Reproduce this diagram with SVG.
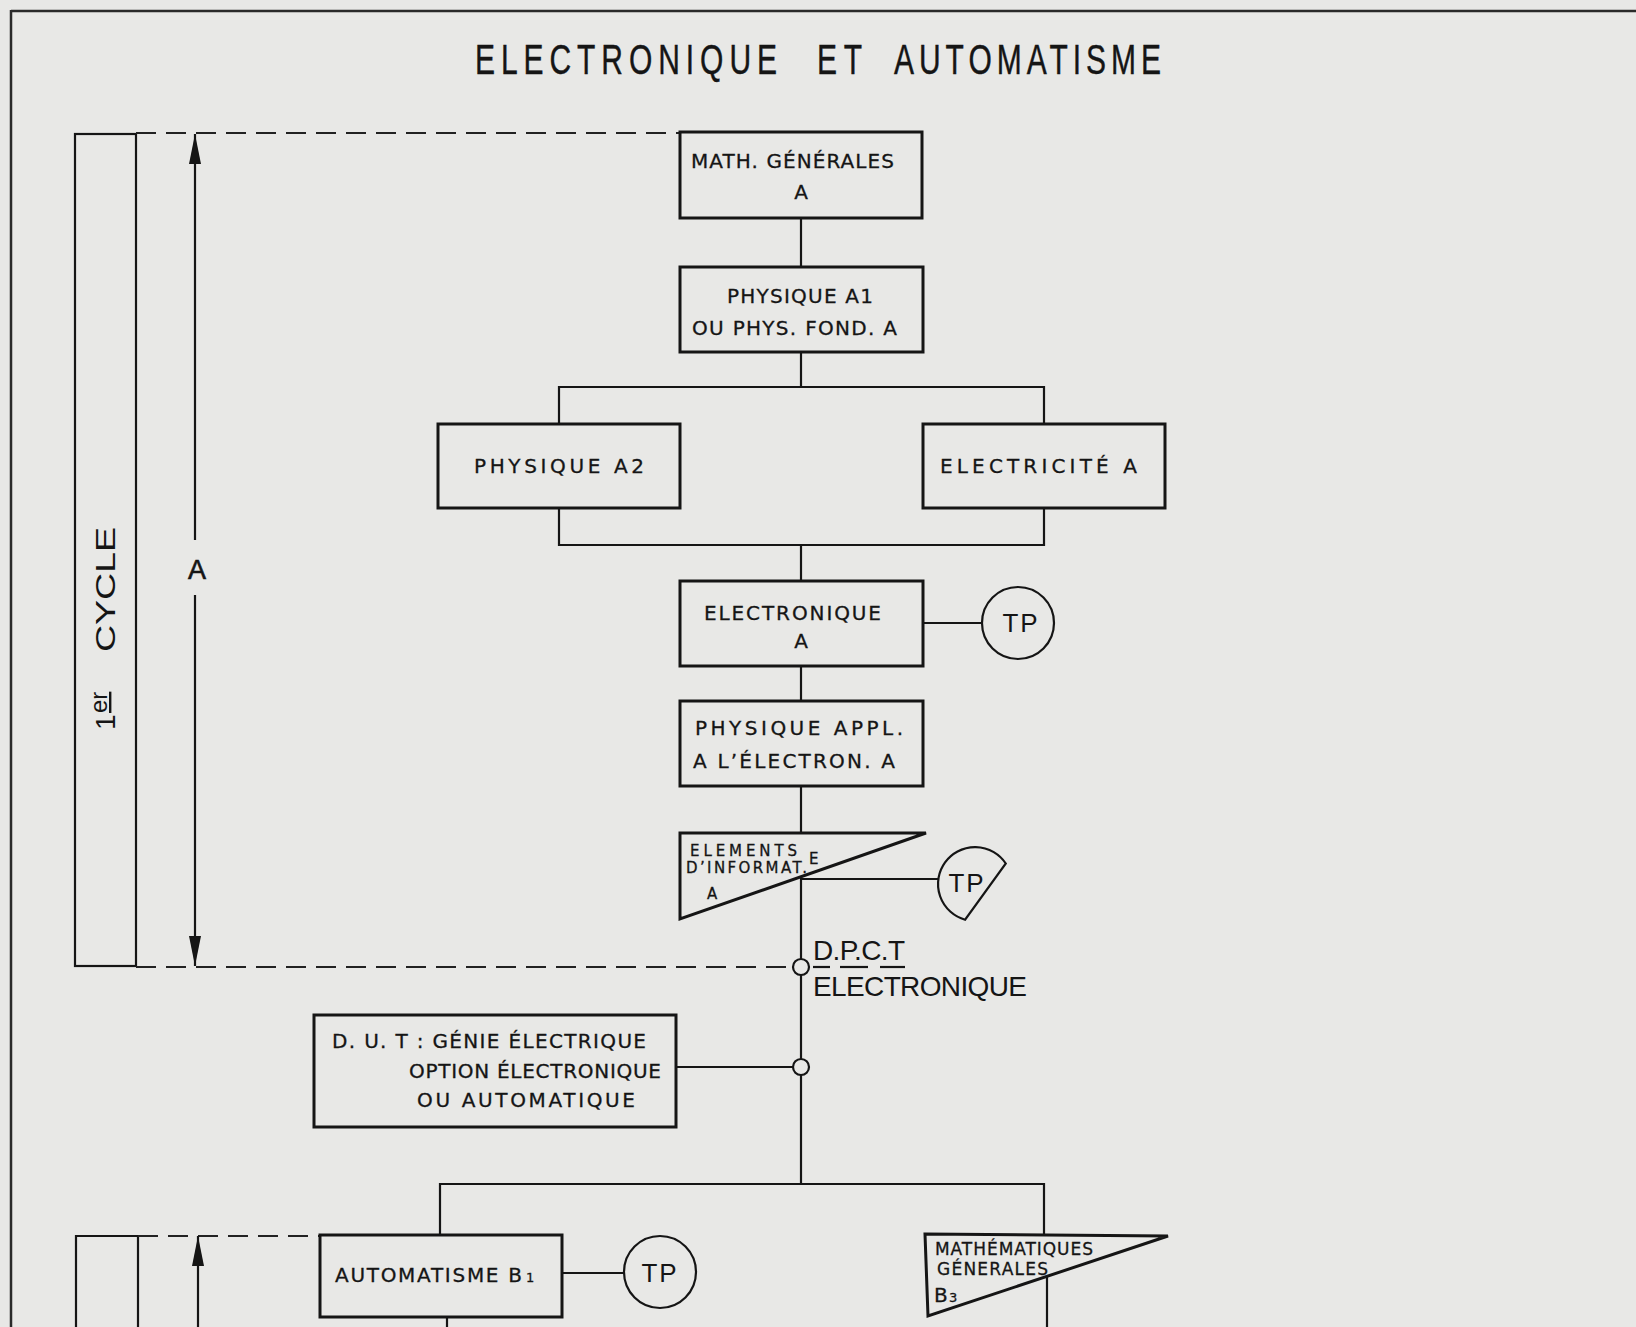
<svg xmlns="http://www.w3.org/2000/svg" width="1636" height="1327" viewBox="0 0 1636 1327">
<style>
.bg{fill:#e8e8e6}
.box{fill:none;stroke:#151515;stroke-width:3;stroke-linejoin:miter}
.ln{fill:none;stroke:#151515;stroke-width:2.2}
.frame{fill:none;stroke:#2a2a2a;stroke-width:2.5}
.dash{fill:none;stroke:#222;stroke-width:2.2;stroke-dasharray:20 10}
.node{fill:none;stroke:#151515;stroke-width:2.2}
.t{font-family:"DejaVu Sans","Liberation Sans",Arial,sans-serif;font-size:20px;fill:#151515;stroke:#151515;stroke-width:0.3}
.s{font-family:"DejaVu Sans","Liberation Sans",Arial,sans-serif;font-size:15px;fill:#151515;stroke:#151515;stroke-width:0.3}
.tp{font-family:"Liberation Sans",Arial,sans-serif;font-size:26px;fill:#151515;text-anchor:middle;letter-spacing:2px}
.big{font-family:"Liberation Sans",Arial,sans-serif;font-size:28px;fill:#151515}
.ttl{font-family:"Liberation Sans",Arial,sans-serif;font-size:30px;fill:#151515;stroke:#151515;stroke-width:0.3}
</style>
<defs>
<marker id="arr" markerUnits="userSpaceOnUse" markerWidth="30" markerHeight="14" refX="30" refY="7" orient="auto">
<path d="M0,1 L30,7 L0,13 Z" fill="#151515"/>
</marker>
</defs>
<rect class="bg" x="0" y="0" width="1636" height="1327"/>
<g id="frame">
<line class="frame" x1="11" y1="11" x2="1636" y2="11"/>
<line class="frame" x1="11" y1="10" x2="11" y2="1327"/>
</g>
<g id="title" transform="translate(0,74) scale(1,1.4)">
<text class="ttl" x="475" y="0" textLength="302">ELECTRONIQUE</text>
<text class="ttl" x="817" y="0" textLength="45">ET</text>
<text class="ttl" x="894" y="0" textLength="267">AUTOMATISME</text>
</g>
<g id="cycle1">
<rect class="ln" x="75" y="134" width="61" height="832"/>
<g transform="translate(115,730) rotate(-90)">
<text class="big" x="0" y="0">1</text>
<text class="big" x="17" y="-8" style="font-size:24px;text-decoration:underline">er</text>
<text class="big" x="78" y="0" textLength="125" lengthAdjust="spacingAndGlyphs">CYCLE</text>
</g>
</g>
<g id="cycle2">
<path class="ln" d="M76,1327 L76,1236 L138,1236 L138,1327"/>
</g>
<g id="dimA">
<text class="big" x="197" y="579" style="font-size:27px;text-anchor:middle;stroke:#151515;stroke-width:0.6">A</text>
</g>
<g id="connectors">
<line class="dash" x1="136" y1="133" x2="680" y2="133"/>
<line class="dash" x1="136" y1="967" x2="793" y2="967"/>
<line class="dash" x1="138" y1="1236" x2="320" y2="1236"/>
<line class="ln" x1="195" y1="540" x2="195" y2="134" marker-end="url(#arr)"/>
<line class="ln" x1="195" y1="595" x2="195" y2="966" marker-end="url(#arr)"/>
<line class="ln" x1="198" y1="1327" x2="198" y2="1236" marker-end="url(#arr)"/>
<line class="ln" x1="801" y1="218" x2="801" y2="267"/>
<polyline class="ln" points="801,352 801,387"/>
<polyline class="ln" points="559,424 559,387 1044,387 1044,424"/>
<polyline class="ln" points="559,508 559,545 1044,545 1044,508"/>
<line class="ln" x1="801" y1="545" x2="801" y2="581"/>
<line class="ln" x1="923" y1="623" x2="982" y2="623"/>
<line class="ln" x1="801" y1="666" x2="801" y2="701"/>
<line class="ln" x1="801" y1="786" x2="801" y2="833"/>
<line class="ln" x1="801" y1="877" x2="801" y2="959"/>
<line class="ln" x1="801" y1="879" x2="938" y2="879"/>
<line class="ln" x1="801" y1="975" x2="801" y2="1059"/>
<line class="ln" x1="676" y1="1067" x2="793" y2="1067"/>
<line class="ln" x1="801" y1="1075" x2="801" y2="1184"/>
<polyline class="ln" points="440,1235 440,1184 1044,1184 1044,1234"/>
<line class="ln" x1="562" y1="1273" x2="624" y2="1273"/>
<line class="ln" x1="447" y1="1317" x2="447" y2="1327"/>
<line class="ln" x1="1047" y1="1276" x2="1047" y2="1327"/>
</g>
<g id="math-generales">
<rect class="box" x="680" y="132" width="242" height="86"/>
<text class="t" x="691" y="168" textLength="203">MATH. GÉNÉRALES</text>
<text class="t" x="801" y="199" text-anchor="middle">A</text>
</g>
<g id="physique-a1">
<rect class="box" x="680" y="267" width="243" height="85"/>
<text class="t" x="727" y="303" textLength="146">PHYSIQUE A1</text>
<text class="t" x="692" y="335" textLength="205">OU PHYS. FOND. A</text>
</g>
<g id="physique-a2">
<rect class="box" x="438" y="424" width="242" height="84"/>
<text class="t" x="474" y="473" textLength="170">PHYSIQUE  A2</text>
</g>
<g id="electricite">
<rect class="box" x="923" y="424" width="242" height="84"/>
<text class="t" x="940" y="473" textLength="197">ELECTRICITÉ  A</text>
</g>
<g id="electronique">
<rect class="box" x="680" y="581" width="243" height="85"/>
<text class="t" x="704" y="620" textLength="177">ELECTRONIQUE</text>
<text class="t" x="801" y="648" text-anchor="middle">A</text>
</g>
<g id="tp1">
<circle class="node" cx="1018" cy="623" r="36"/>
<text class="tp" x="1021" y="632">TP</text>
</g>
<g id="physique-appl">
<rect class="box" x="680" y="701" width="243" height="85"/>
<text class="t" x="695" y="735" textLength="208">PHYSIQUE  APPL.</text>
<text class="t" x="693" y="768" textLength="202">A L’ÉLECTRON.  A</text>
</g>
<g id="elements-informat">
<path class="box" d="M680,833 L926,833 L680,919 Z"/>
<text class="s" x="690" y="856" textLength="107">ELEMENTS</text>
<text class="s" x="686" y="873" textLength="121">D’INFORMAT.</text>
<text class="s" x="809" y="864">E</text>
<text class="s" x="707" y="899">A</text>
</g>
<g id="tp2">
<path class="node" d="M1005.8,863.5 A37,37 0 1 0 965.1,919.7 Z"/>
<text class="tp" x="967" y="892">TP</text>
</g>
<g id="dpct">
<circle class="node" cx="801" cy="967" r="8"/>
<text class="big" x="813" y="960" textLength="92">D.P.C.T</text>
<line class="ln" x1="813" y1="967" x2="830" y2="967"/>
<line class="ln" x1="840" y1="967" x2="868" y2="967"/>
<line class="ln" x1="880" y1="967" x2="905" y2="967"/>
<text class="big" x="813" y="996" textLength="214">ELECTRONIQUE</text>
</g>
<g id="dut">
<rect class="box" x="314" y="1015" width="362" height="112"/>
<text class="t" x="332" y="1048" textLength="314">D. U. T : GÉNIE  ÉLECTRIQUE</text>
<text class="t" x="409" y="1078" textLength="252">OPTION ÉLECTRONIQUE</text>
<text class="t" x="417" y="1107" textLength="218">OU  AUTOMATIQUE</text>
<circle class="node" cx="801" cy="1067" r="8"/>
</g>
<g id="automatisme-b1">
<rect class="box" x="320" y="1235" width="242" height="82"/>
<text class="t" x="335" y="1282" textLength="187">AUTOMATISME  B</text>
<text class="s" x="526" y="1282" style="font-size:13px">1</text>
</g>
<g id="tp3">
<circle class="node" cx="660" cy="1272" r="36"/>
<text class="tp" x="660" y="1282">TP</text>
</g>
<g id="mathematiques-b3">
<path class="box" d="M925,1234 L1168,1236 L928,1316 Z"/>
<text class="t" x="935" y="1255" style="font-size:17px" textLength="158">MATHÉMATIQUES</text>
<text class="t" x="937" y="1275" style="font-size:17px" textLength="111">GÉNERALES</text>
<text class="t" x="934" y="1302" style="font-size:20px">B</text>
<text class="s" x="949" y="1302" style="font-size:13px">3</text>
</g>
</svg>
